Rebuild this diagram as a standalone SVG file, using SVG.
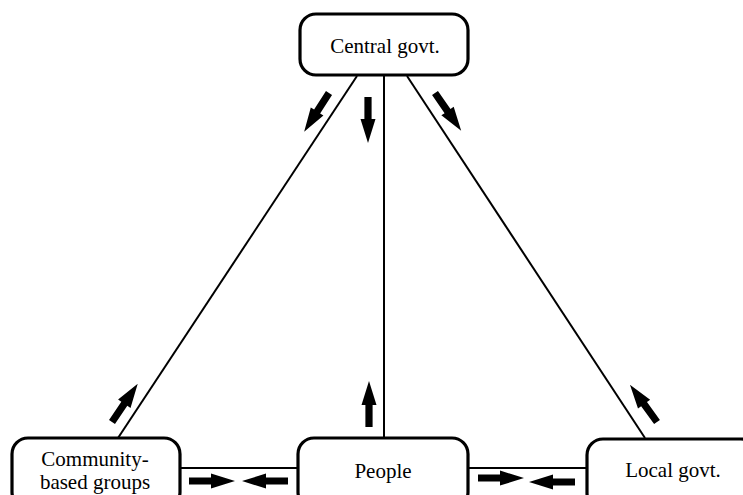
<svg xmlns="http://www.w3.org/2000/svg" xmlns:xlink="http://www.w3.org/1999/xlink" width="743" height="495" viewBox="0 0 743 495">
<style>
.box{fill:#fff;stroke:#000;stroke-width:3.2}
.edge{stroke:#000;stroke-width:2;fill:none}
.lbl{font-family:"Liberation Serif","Times New Roman",serif;font-size:21px;fill:#000;text-anchor:middle}
.arr{fill:#000}
</style>
<defs>
<path id="ar" class="arr" d="M0,-3.6 L22,-3.6 L22,-7.5 L46,0 L22,7.5 L22,3.6 L0,3.6 Z"/>
</defs>
<rect width="743" height="495" fill="#fff"/>
<g id="connectors">
<line class="edge" x1="357" y1="76" x2="118" y2="438"/>
<line class="edge" x1="384" y1="76" x2="384" y2="438"/>
<line class="edge" x1="407" y1="76" x2="645" y2="438"/>
<line class="edge" x1="180" y1="468" x2="298" y2="468"/>
<line class="edge" x1="468" y1="468" x2="587" y2="468"/>
<use xlink:href="#ar" transform="translate(329,93) rotate(122.7)"/>
<use xlink:href="#ar" transform="translate(368,97) rotate(90)"/>
<use xlink:href="#ar" transform="translate(435,93) rotate(55.3)"/>
<use xlink:href="#ar" transform="translate(369,427) rotate(-90)"/>
<use xlink:href="#ar" transform="translate(112,422) rotate(-56)"/>
<use xlink:href="#ar" transform="translate(657,422) rotate(-126)"/>
<use xlink:href="#ar" transform="translate(189,481)"/>
<use xlink:href="#ar" transform="translate(288,481) rotate(180)"/>
<use xlink:href="#ar" transform="translate(478,478)"/>
<use xlink:href="#ar" transform="translate(575,482) rotate(180)"/>
</g>
<g id="central">
<rect class="box" x="300" y="14" width="168" height="61" rx="16"/>
<text class="lbl" x="385" y="53">Central govt.</text>
</g>
<g id="community">
<rect class="box" x="12" y="438" width="168" height="70" rx="16"/>
<text class="lbl" x="95" y="466">Community-</text>
<text class="lbl" x="95" y="489">based groups</text>
</g>
<g id="people">
<rect class="box" x="298" y="438" width="170" height="70" rx="16"/>
<text class="lbl" x="383" y="478">People</text>
</g>
<g id="local">
<rect class="box" x="587" y="439" width="170" height="70" rx="16"/>
<text class="lbl" x="673" y="477">Local govt.</text>
</g>
</svg>
